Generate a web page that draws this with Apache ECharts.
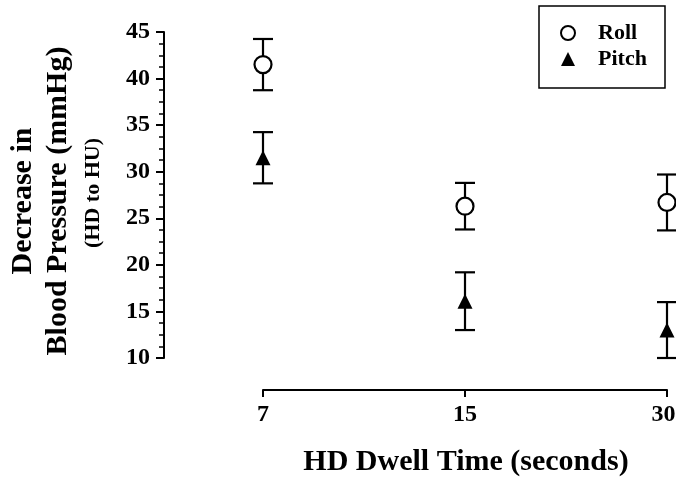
<!DOCTYPE html>
<html>
<head>
<meta charset="utf-8">
<script src="https://cdn.jsdelivr.net/npm/echarts@6/dist/echarts.min.js"></script>
<style>
html,body{margin:0;padding:0;background:#fff;}
#c{width:676px;height:484px;}
</style>
</head>
<body>
<div id="c"></div>
<script>
// Data
var categories = ['7', '15', '30'];
var rollMean = [41.5, 26.3, 26.7];
var rollErr = [2.75, 2.5, 3.0];
var pitchMean = [31.5, 16.1, 13.0];
var pitchErr = [2.75, 3.1, 3.0];
var yTicks = [10, 15, 20, 25, 30, 35, 40, 45];

var FONT = "'Liberation Serif', 'Times New Roman', serif";

function errSeries(name, means, errs) {
  return {
    name: name,
    type: 'custom',
    z: 1,
    data: means.map(function (m, i) { return [i, m - errs[i], m + errs[i]]; }),
    encode: { x: 0, y: [1, 2] },
    renderItem: function (params, api) {
      var lo = api.coord([api.value(0), api.value(1)]);
      var hi = api.coord([api.value(0), api.value(2)]);
      var w = 10;
      var st = { stroke: '#000', lineWidth: 2.2 };
      return {
        type: 'group',
        children: [
          { type: 'line', shape: { x1: lo[0], y1: lo[1], x2: hi[0], y2: hi[1] }, style: st },
          { type: 'line', shape: { x1: lo[0] - w, y1: lo[1], x2: lo[0] + w, y2: lo[1] }, style: st },
          { type: 'line', shape: { x1: hi[0] - w, y1: hi[1], x2: hi[0] + w, y2: hi[1] }, style: st }
        ]
      };
    },
    silent: true
  };
}

var labelFont = { color: '#000', fontFamily: FONT, fontWeight: 'bold', fontSize: 24 };

var chart = echarts.init(document.getElementById('c'), null, { renderer: 'canvas' });
chart.setOption({
  backgroundColor: '#fff',
  animation: false,
  grid: { left: 263, right: 9, top: 32, bottom: 126, containLabel: false, outerBoundsMode: 'none' },
  xAxis: {
    type: 'category',
    data: categories,
    boundaryGap: false,
    offset: 32,
    axisLine: { lineStyle: { color: '#000', width: 2 } },
    axisTick: { show: true, length: 7, lineStyle: { color: '#000', width: 2 } },
    axisLabel: {
      color: '#000', fontFamily: FONT, fontWeight: 'bold', fontSize: 24, margin: 13,
      formatter: function (v, i) {
        return i === categories.length - 1 ? '{last|' + v + '}' : v;
      },
      rich: {
        last: Object.assign({ padding: [0, 7, 0, 0] }, labelFont)
      }
    },
    splitLine: { show: false }
  },
  yAxis: {
    type: 'value',
    min: yTicks[0],
    max: yTicks[yTicks.length - 1],
    interval: 5,
    offset: 99,
    axisLine: { show: true, lineStyle: { color: '#000', width: 2 } },
    axisTick: { show: true, length: 8, lineStyle: { color: '#000', width: 2 } },
    minorTick: { show: true, splitNumber: 4, length: 5, lineStyle: { color: '#000', width: 1.5 } },
    axisLabel: { color: '#000', fontFamily: FONT, fontWeight: 'bold', fontSize: 24, margin: 14 },
    splitLine: { show: false }
  },
  legend: {
    data: ['Roll', 'Pitch'],
    orient: 'vertical',
    left: 560,
    top: 22,
    padding: 0,
    itemWidth: 14,
    itemHeight: 14,
    itemGap: 4,
    textStyle: { color: '#000', fontFamily: FONT, fontWeight: 'bold', fontSize: 22, padding: [0, 0, 0, 18] }
  },
  graphic: [
    { type: 'rect', shape: { x: 539, y: 6, width: 126, height: 82 }, style: { fill: 'none', stroke: '#000', lineWidth: 1.5 }, z: -1 },
    { type: 'text', x: 23, y: 201, rotation: Math.PI / 2,
      style: { text: 'Decrease in', font: 'bold 30px ' + FONT, fill: '#000', align: 'center', verticalAlign: 'middle' } },
    { type: 'text', x: 58, y: 201, rotation: Math.PI / 2,
      style: { text: 'Blood Pressure (mmHg)', font: 'bold 30px ' + FONT, fill: '#000', align: 'center', verticalAlign: 'middle' } },
    { type: 'text', x: 93, y: 193, rotation: Math.PI / 2,
      style: { text: '(HD to HU)', font: 'bold 22px ' + FONT, fill: '#000', align: 'center', verticalAlign: 'middle' } },
    { type: 'text', x: 466, y: 462,
      style: { text: 'HD Dwell Time (seconds)', font: 'bold 30px ' + FONT, fill: '#000', align: 'center', verticalAlign: 'middle' } }
  ],
  series: [
    errSeries('rollErr', rollMean, rollErr),
    errSeries('pitchErr', pitchMean, pitchErr),
    {
      name: 'Roll',
      type: 'scatter',
      z: 3,
      data: rollMean,
      symbol: 'circle',
      symbolSize: 17,
      itemStyle: { color: '#fff', borderColor: '#000', borderWidth: 2.2, opacity: 1 }
    },
    {
      name: 'Pitch',
      type: 'scatter',
      z: 3,
      data: pitchMean,
      symbol: 'triangle',
      symbolSize: 15,
      itemStyle: { color: '#000', opacity: 1 }
    }
  ]
});
</script>
</body>
</html>
